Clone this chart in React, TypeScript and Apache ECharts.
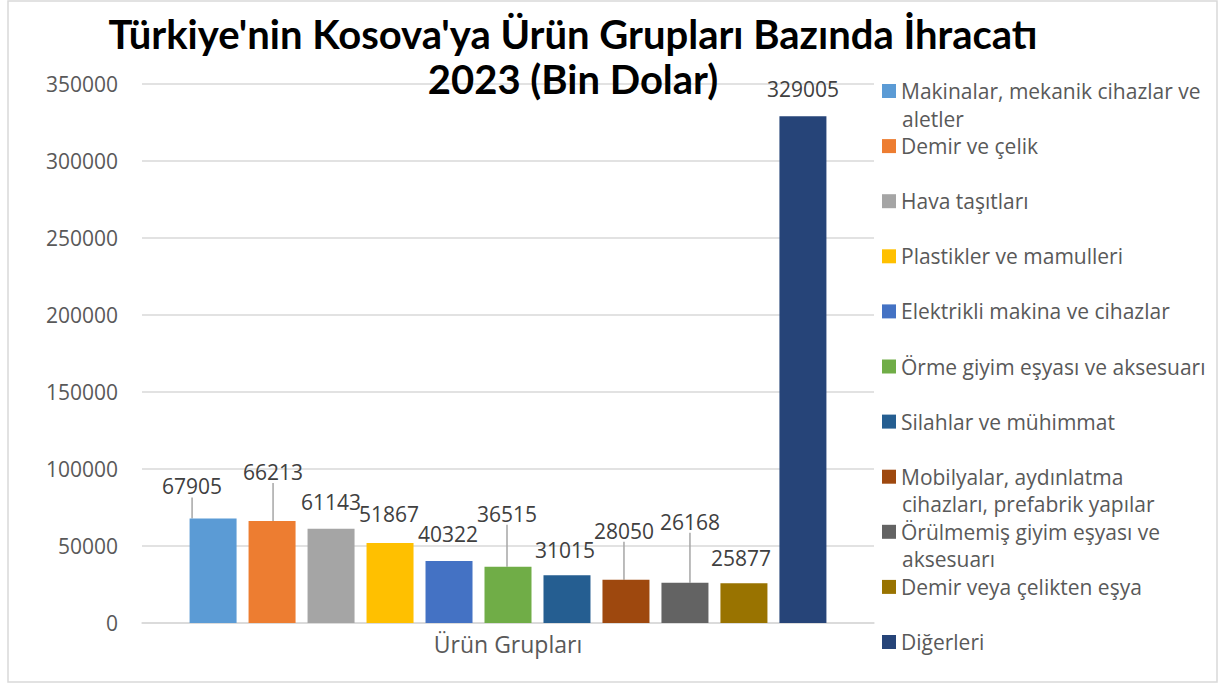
import React, { useEffect, useRef } from "react";
import * as echarts from "echarts";

const categories = ["Ürün Grupları"];

const seriesNames = [
  "Makinalar, mekanik cihazlar ve aletler",
  "Demir ve çelik",
  "Hava taşıtları",
  "Plastikler ve mamulleri",
  "Elektrikli makina ve cihazlar",
  "Örme giyim eşyası ve aksesuarı",
  "Silahlar ve mühimmat",
  "Mobilyalar, aydınlatma cihazları, prefabrik yapılar",
  "Örülmemiş giyim eşyası ve aksesuarı",
  "Demir veya çelikten eşya",
  "Diğerleri",
];

const legendFirstLines = [
  "Makinalar, mekanik cihazlar ve",
  "Demir ve çelik",
  "Hava taşıtları",
  "Plastikler ve mamulleri",
  "Elektrikli makina ve cihazlar",
  "Örme giyim eşyası ve aksesuarı",
  "Silahlar ve mühimmat",
  "Mobilyalar, aydınlatma",
  "Örülmemiş giyim eşyası ve",
  "Demir veya çelikten eşya",
  "Diğerleri",
];

const legendSecondLines = [
  "aletler",
  "",
  "",
  "",
  "",
  "",
  "",
  "cihazları, prefabrik yapılar",
  "aksesuarı",
  "",
  "",
];

const values = [67905, 66213, 61143, 51867, 40322, 36515, 31015, 28050, 26168, 25877, 329005];

const yMin = 0;
const yMax = 350000;
const yInterval = 50000;

const titleText = "Türkiye'nin Kosova'ya Ürün Grupları Bazında İhracatı\n2023 (Bin Dolar)";

// styles
const colors = [
  "#5B9BD5", "#ED7D31", "#A5A5A5", "#FFC000", "#4472C4", "#70AD47",
  "#255E91", "#9E480E", "#636363", "#997300", "#264478",
];
const labelShift = [
  [-21, -5], [1, -22], [0, 0], [-1, -2], [-1, 0], [-1, -26],
  [-2, 2], [-2, -22], [5, -34], [-3, 2], [0, 0],
];
const labelHasLine = [true, true, false, false, false, true, false, true, true, false, false];

const FONT = "'Open Sans', sans-serif";

export default function App() {
  const ref = useRef<HTMLDivElement>(null);

  useEffect(() => {
    if (!ref.current) return;
    const chart = echarts.init(ref.current, null, { renderer: "svg" });

    const legendTop = 80;
    const legendStep = 55.1;

    const series = seriesNames.map((name, i) => ({
      name,
      type: "bar",
      data: [values[i]],
      barWidth: 47,
      barGap: "25.5%",
      itemStyle: { color: colors[i] },
      label: {
        show: true,
        position: "top",
        distance: 16,
        fontSize: 21,
        lineHeight: 22,
        color: "#404040",
        fontFamily: FONT,
      },
      labelLayout: { dx: labelShift[i][0], dy: labelShift[i][1] },
      labelLine: {
        show: labelHasLine[i],
        lineStyle: { color: "#A6A6A6", width: 1.5 },
      },
    }));

    const secondLineGraphics = legendSecondLines
      .map((t, i) => ({ t, i }))
      .filter((o) => o.t)
      .map((o) => ({
        type: "text",
        left: 902,
        top: legendTop + o.i * legendStep + 28,
        style: {
          text: o.t,
          fill: "#595959",
          font: `21px ${FONT}`,
        },
      }));

    chart.setOption({
      animation: false,
      backgroundColor: "#ffffff",
      title: {
        text: titleText,
        left: 573,
        top: 11,
        padding: 0,
        textAlign: "center",
        textStyle: {
          fontFamily: "Lato, sans-serif",
          fontWeight: "bold",
          fontSize: 40,
          lineHeight: 45,
          color: "#000000",
        },
      },
      legend: {
        orient: "vertical",
        left: 882,
        top: legendTop,
        padding: 0,
        itemWidth: 14,
        itemHeight: 14,
        itemGap: legendStep - 22,
        icon: "rect",
        data: seriesNames,
        formatter: (name: string) => legendFirstLines[seriesNames.indexOf(name)],
        textStyle: {
          fontFamily: FONT,
          fontSize: 21,
          lineHeight: 22,
          color: "#595959",
        },
      },
      grid: { left: 142, right: 349, top: 84, bottom: 64, containLabel: false },
      xAxis: {
        type: "category",
        data: categories,
        axisLine: { show: true, lineStyle: { color: "#D9D9D9", width: 1.5 } },
        axisTick: { show: false },
        axisLabel: { fontSize: 23, color: "#595959", fontFamily: FONT, margin: 9 },
      },
      yAxis: {
        type: "value",
        min: yMin,
        max: yMax,
        interval: yInterval,
        axisLine: { show: false },
        axisTick: { show: false },
        splitLine: { lineStyle: { color: "#D9D9D9", width: 1.5 } },
        axisLabel: {
          fontSize: 21,
          color: "#595959",
          fontFamily: FONT,
          margin: 24,
          formatter: (v: number) => String(v),
        },
      },
      graphic: [
        {
          type: "rect",
          shape: { x: 8, y: 1, width: 1209, height: 681 },
          style: { fill: "none", stroke: "#D9D9D9", lineWidth: 1.5 },
          z: -1,
        },
        ...secondLineGraphics,
      ],
      series,
    });

    return () => chart.dispose();
  }, []);

  return (
    <div
      ref={ref}
      style={{ position: "fixed", left: 0, top: 0, width: 1223, height: 687 }}
    />
  );
}
